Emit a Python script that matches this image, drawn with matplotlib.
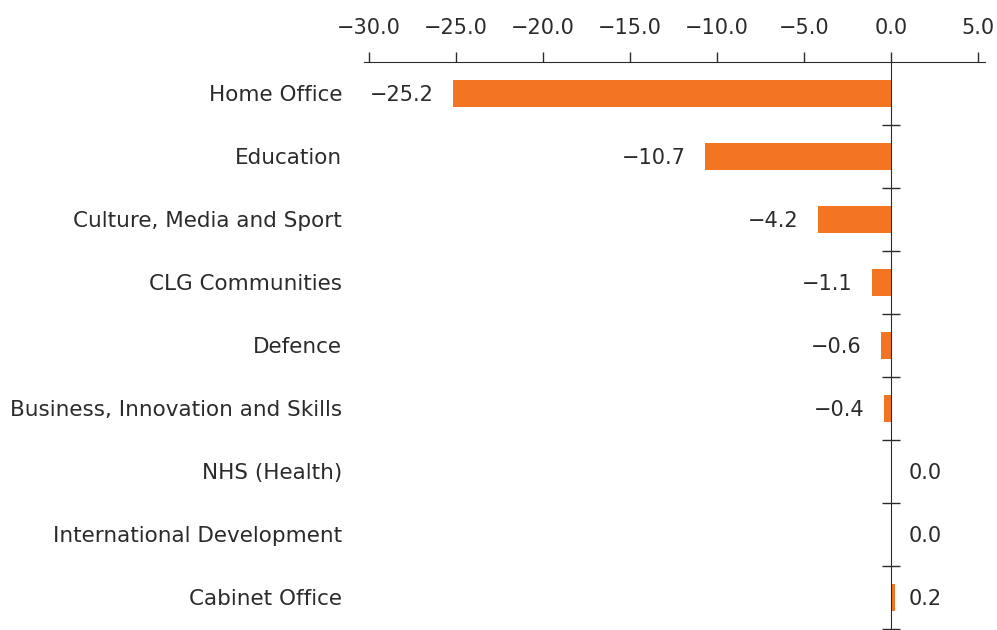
import matplotlib.pyplot as plt
import matplotlib.transforms as mtransforms

# departments and change values
departments = ["Home Office", "Education", "Culture, Media and Sport",
               "CLG Communities", "Defence", "Business, Innovation and Skills",
               "NHS (Health)", "International Development", "Cabinet Office"]
values = [-25.2, -10.7, -4.2, -1.1, -0.6, -0.4, 0.0, 0.0, 0.2]
xticks = [-30, -25, -20, -15, -10, -5, 0, 5]

orange = "#F47521"
dark = "#2b2b2b"

plt.rcParams['font.family'] = ['DejaVu Sans']

fig = plt.figure(figsize=(9.97, 6.3), dpi=100)
ax = fig.add_axes([0.365, 0.0016, 0.623, 0.9], facecolor="none")

pos = list(range(len(departments)))
ax.barh(pos, values, height=0.42, color=orange, zorder=2)

ax.set_xlim(-30.3, 5.4)
ax.set_ylim(len(departments) - 0.5, -0.5)

# top axis
ax.xaxis.tick_top()
ax.set_xticks(xticks)
ax.set_xticklabels([f"{t:.1f}".replace("-", "\u2212") for t in xticks],
                   fontsize=15, color=dark)
ax.tick_params(axis="x", direction="out", length=7, width=1, color=dark, pad=10)

for s in ["bottom", "right"]:
    ax.spines[s].set_visible(False)
ax.spines["top"].set_color(dark)
ax.spines["left"].set_position(("data", 0))
ax.spines["left"].set_color(dark)
ax.spines["left"].set_zorder(3)

# y ticks at category boundaries on the zero line
ax.set_yticks([p + 0.5 for p in pos])
ax.set_yticklabels([])
ax.tick_params(axis="y", direction="inout", length=13, width=1, color=dark)

# category labels
trans = mtransforms.blended_transform_factory(ax.transAxes, ax.transData)
for p, name in zip(pos, departments):
    ax.text(-0.035, p + 0.03, name, transform=trans, ha="right", va="center",
            fontsize=15.5, color=dark)

# value labels
for p, v in zip(pos, values):
    lab = f"{v:.1f}".replace("-", "\u2212")
    if v < 0:
        ax.annotate(lab, (v, p + 0.03), xytext=(-14, 0), textcoords="offset points",
                    ha="right", va="center", fontsize=15, color=dark)
    else:
        ax.annotate(lab, (0, p + 0.03), xytext=(12.5, 0), textcoords="offset points",
                    ha="left", va="center", fontsize=15, color=dark)

fig.savefig("out.png", dpi=100)
